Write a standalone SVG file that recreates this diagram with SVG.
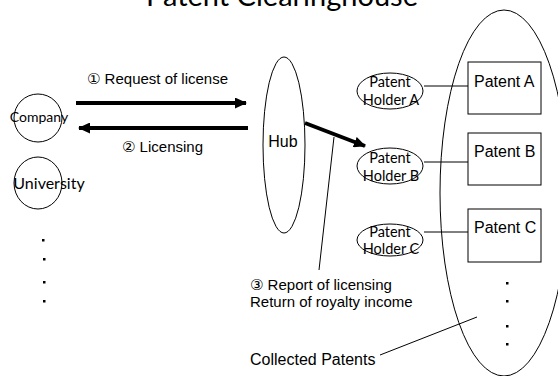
<svg xmlns="http://www.w3.org/2000/svg" width="558" height="376" viewBox="0 0 558 376">
  <style>
    .bg { fill: #ffffff; }
    .shape { fill: none; stroke: #000; stroke-width: 1; }
    .box { fill: #fff; stroke: #000; stroke-width: 1; }
    .thin { fill: none; stroke: #000; stroke-width: 1; }
    .thick { fill: none; stroke: #000; stroke-width: 4; }
    .sans { font-family: "Liberation Sans", "DejaVu Sans", Arial, sans-serif; fill: #000; }
    .cal { font-family: Lato, "Open Sans", "Liberation Sans", sans-serif; fill: #000; }
    .dot { fill: #000; }
  </style>
  <defs>
    <marker id="head" markerUnits="userSpaceOnUse" markerWidth="12" markerHeight="11" refX="11" refY="5.5" orient="auto">
      <path d="M0,0 L12,5.5 L0,11 Z" fill="#000"/>
    </marker>
  </defs>

  <rect class="bg" x="0" y="0" width="558" height="376"/>

  <!-- title, partly above the top edge -->
  <text class="cal" x="282" y="6" font-size="29" text-anchor="middle">Patent Clearinghouse</text>

  <!-- pool of collected patents -->
  <g id="pool">
    <ellipse class="shape" cx="504" cy="193" rx="64" ry="183"/>
  </g>

  <g id="connectors">
    <line class="thick" x1="76" y1="103" x2="246" y2="103" marker-end="url(#head)"/>
    <line class="thick" x1="248" y1="128" x2="79" y2="128" marker-end="url(#head)"/>
    <line class="thick" x1="305" y1="123" x2="365" y2="146" marker-end="url(#head)"/>
    <line class="thin" x1="334" y1="137" x2="319" y2="270"/>
    <line class="thin" x1="424" y1="86" x2="468" y2="86"/>
    <line class="thin" x1="424" y1="162" x2="468" y2="162"/>
    <line class="thin" x1="424" y1="232" x2="468" y2="232"/>
    <line class="thin" x1="380" y1="355" x2="477" y2="317"/>
  </g>

  <g id="company">
    <ellipse class="shape" cx="38" cy="118" rx="24" ry="24"/>
    <text class="cal" x="39" y="122" font-size="14" text-anchor="middle">Company</text>
  </g>

  <g id="university">
    <ellipse class="shape" cx="38" cy="183" rx="24" ry="26"/>
    <text class="cal" x="49" y="189" font-size="16" text-anchor="middle">University</text>
  </g>

  <g id="others">
    <rect class="dot" x="42" y="239" width="2.5" height="2.5"/>
    <rect class="dot" x="43" y="258" width="2.5" height="2.5"/>
    <rect class="dot" x="43" y="281" width="2.5" height="2.5"/>
    <rect class="dot" x="43" y="300" width="2.5" height="2.5"/>
  </g>

  <g id="hub">
    <ellipse class="shape" cx="284" cy="145" rx="21" ry="88"/>
    <text class="sans" x="283" y="147" font-size="16" text-anchor="middle">Hub</text>
  </g>

  <g id="holder-a">
    <ellipse class="shape" cx="390" cy="91" rx="33" ry="18"/>
    <text class="cal" x="390" y="87" font-size="14.5" text-anchor="middle">Patent</text>
    <text class="cal" x="391" y="105" font-size="14.5" text-anchor="middle">Holder A</text>
  </g>

  <g id="holder-b">
    <ellipse class="shape" cx="390" cy="166" rx="33" ry="18"/>
    <text class="cal" x="390" y="163" font-size="14.5" text-anchor="middle">Patent</text>
    <text class="cal" x="391" y="181" font-size="14.5" text-anchor="middle">Holder B</text>
  </g>

  <g id="holder-c">
    <ellipse class="shape" cx="390" cy="240" rx="33" ry="16"/>
    <text class="cal" x="390" y="237" font-size="14.5" text-anchor="middle">Patent</text>
    <text class="cal" x="391" y="254" font-size="14.5" text-anchor="middle">Holder C</text>
  </g>

  <g id="patent-a">
    <rect class="box" x="468" y="62" width="73" height="52"/>
    <text class="sans" x="474" y="87" font-size="16">Patent A</text>
  </g>

  <g id="patent-b">
    <rect class="box" x="468" y="133" width="73" height="52"/>
    <text class="sans" x="474" y="157" font-size="16">Patent B</text>
  </g>

  <g id="patent-c">
    <rect class="box" x="468" y="209" width="73" height="53"/>
    <text class="sans" x="474" y="233" font-size="16">Patent C</text>
  </g>

  <g id="more-patents">
    <rect class="dot" x="506" y="282" width="2.5" height="2.5"/>
    <rect class="dot" x="506" y="300" width="2.5" height="2.5"/>
    <rect class="dot" x="506" y="325" width="2.5" height="2.5"/>
    <rect class="dot" x="506" y="343" width="2.5" height="2.5"/>
  </g>

  <g id="labels">
    <text class="sans" x="87" y="84" font-size="15">① Request of license</text>
    <text class="sans" x="122" y="152" font-size="15">② Licensing</text>
    <text class="sans" x="250" y="290" font-size="15">③ Report of licensing</text>
    <text class="sans" x="250" y="307" font-size="15">Return of royalty income</text>
    <text class="sans" x="250" y="365" font-size="16">Collected Patents</text>
  </g>
</svg>
